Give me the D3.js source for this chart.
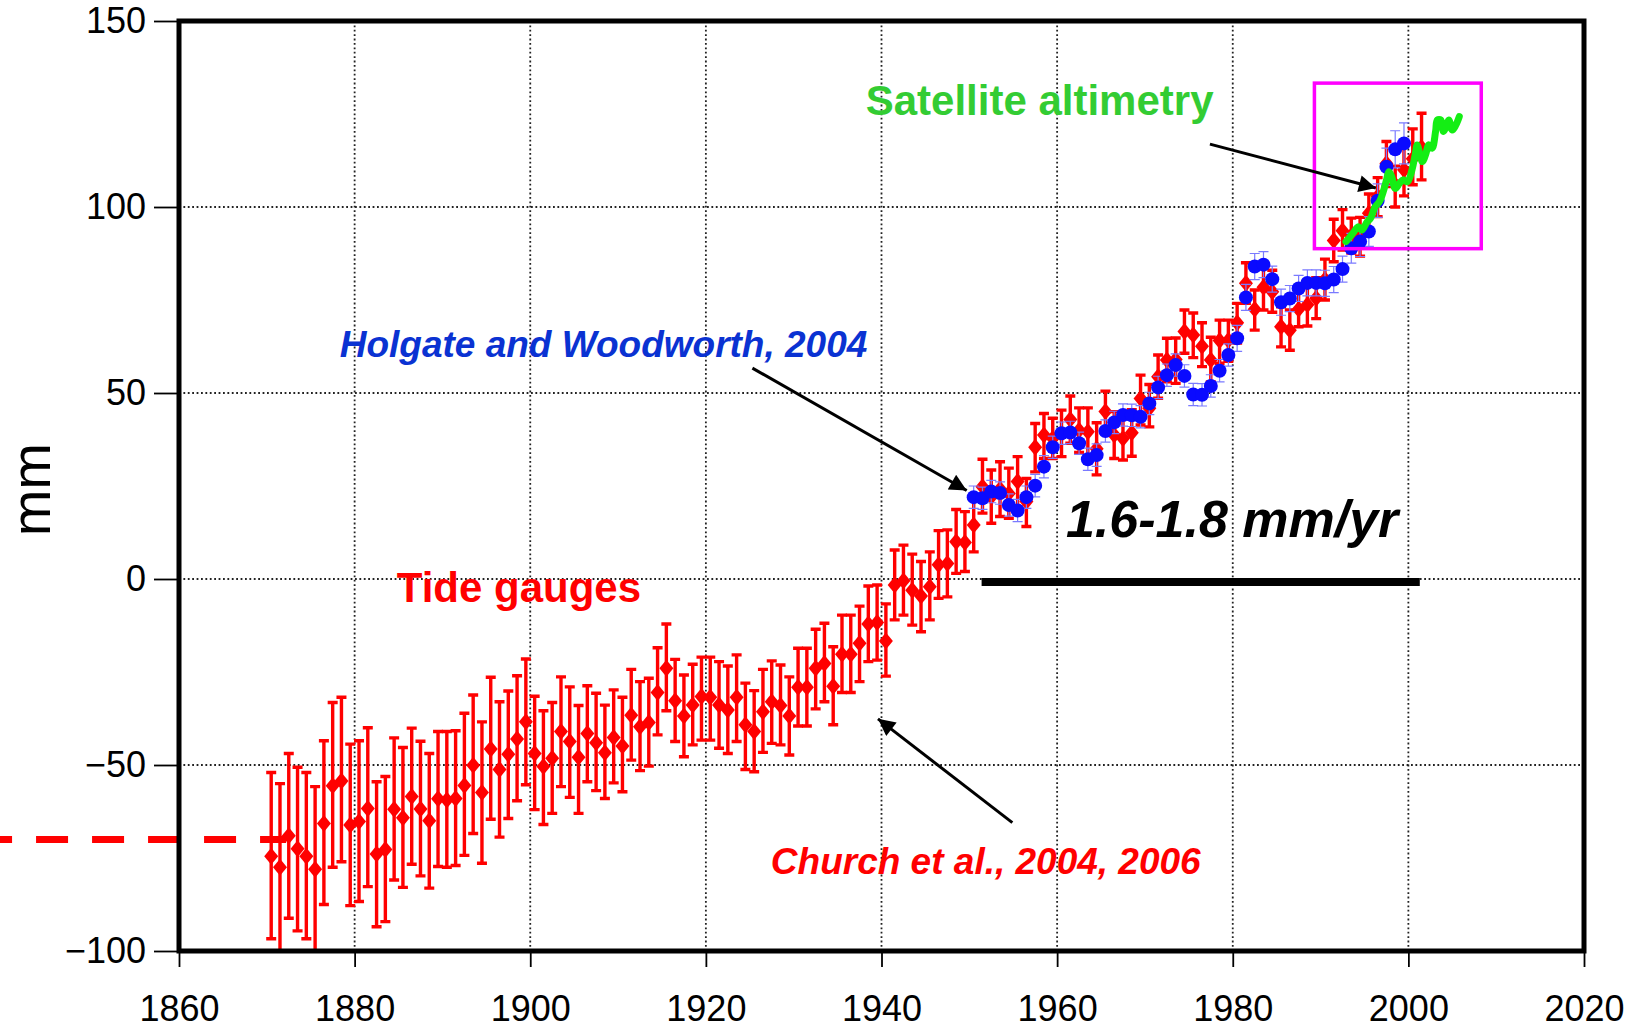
<!DOCTYPE html>
<html>
<head>
<meta charset="utf-8">
<script src="https://cdn.jsdelivr.net/npm/d3@7"></script>
<style>
  html, body { margin: 0; padding: 0; background: #fff; }
  svg { display: block; font-family: "Liberation Sans", Arial, Helvetica, sans-serif; }
</style>
</head>
<body>
<svg width="1639" height="1032"></svg>
<script>
// data

var xTicks = [1860, 1880, 1900, 1920, 1940, 1960, 1980, 2000, 2020];
var yTicks = [-100, -50, 0, 50, 100, 150];

// Church et al. tide gauge reconstruction, 1870-2001 (mm)
var tideStart = 1870;
var tideMean = [
  -74.5, -77.5, -69, -72.5, -74.5, -78, -65.7, -55.6, -54.3, -66.1,
  -65.2, -61.7, -73.9, -72.7, -61.9, -64.2, -58.5, -61.8, -65, -59.1,
  -59.4, -59, -55.5, -50.1, -57.4, -45.7, -51.2, -47.1, -43, -38.4,
  -46.9, -50.4, -48.2, -41, -43.7, -47.9, -41.5, -44, -46.7, -42.6,
  -44.9, -36.6, -39.7, -38.6, -30.5, -24, -32.7, -36.8, -33.9, -31.6,
  -31.8, -33.9, -35.2, -31.8, -39.2, -41, -35.7, -33, -34, -36.8,
  -29.1, -29.1, -24, -22.7, -28.8, -20.2, -20.2, -17.3, -12.1, -11.7,
  -16.7, -1.6, -0.5, -3, -4.6, -2.1, 3.8, 4.2, 10, 9.8,
  14.5, 24.8, 22.1, 24.2, 23, 26.2, 20.8, 35.4, 38.7, 37.8,
  39, 42.9, 40, 39.6, 35, 45, 38.7, 37.8, 39.3, 48.5,
  45.9, 54.4, 58.9, 59, 66.5, 65.6, 62.6, 58.9, 64.1, 64.2,
  68.9, 79.5, 72.5, 78.4, 77.2, 67.8, 66.9, 72.5, 73.7, 75.5,
  80.5, 91, 93.6, 92.3, 92, 98.3, 102.8, 111.7, 106, 110,
  113, 116
];
var tideLow = [
  -96.7, -101, -91.2, -94.6, -96.7, -101, -87.5, -77.5, -76, -87.8,
  -86.7, -82.7, -93.5, -92.1, -80.9, -82.9, -76.7, -79.8, -83.1, -77.3,
  -77.5, -77, -74.3, -68.4, -76.4, -64.6, -69.4, -64.4, -59.6, -55.3,
  -62, -66, -63, -55.8, -58.7, -63, -54.5, -56.9, -59, -54.8,
  -57.2, -48.7, -51.5, -50.3, -41.9, -35.4, -43.7, -47.8, -44.6, -43.3,
  -43.3, -45.5, -46.9, -43.7, -51.2, -51.8, -46.6, -44.2, -44.6, -47.3,
  -39.5, -39.5, -34.9, -33, -39.2, -30.5, -30.5, -27.6, -22.2, -21.8,
  -26.1, -11, -9.7, -12.4, -14.2, -11, -5.2, -4.8, 1.5, 2,
  7.3, 17.7, 15, 16.8, 16.3, 19.4, 14.1, 28.8, 32.4, 32.4,
  32.9, 36.5, 34, 33, 28, 39.2, 32.4, 32, 33, 41.4,
  40.9, 48.6, 53, 52.6, 60.7, 59.5, 57.1, 53, 58, 58.5,
  63.4, 74.1, 66.9, 72.3, 71.7, 62.4, 61.5, 67.8, 68, 70,
  75, 85.3, 88.4, 87.6, 86.8, 92.9, 97.4, 105.5, 100, 103,
  106, 107.3
];
var tideHigh = [
  -52, -55, -46.9, -50.6, -52, -55.8, -43.5, -33.2, -31.8, -44.4,
  -43.5, -40, -54.5, -53.1, -42.7, -45.3, -40.1, -43.6, -46.9, -41,
  -41, -40.8, -36.1, -31.2, -38.4, -26.4, -33, -30.1, -26, -21.5,
  -31.5, -35.4, -33.2, -26.3, -29, -34, -28.7, -30.7, -33.9, -29.8,
  -31.8, -24.3, -27.6, -26.7, -18.5, -12.1, -21.6, -25.8, -22.9, -21,
  -21, -22.2, -23.4, -20.4, -28, -30, -24.3, -22, -23.1, -26.3,
  -18.6, -18.6, -13.5, -11.9, -18.2, -9.7, -9.7, -7.3, -1.9, -1.6,
  -6.7, 7.8, 9.1, 6.7, 4.7, 7.3, 13, 13.2, 18.7, 18.1,
  22, 32.2, 29.3, 31.5, 29.8, 32.9, 27, 41.8, 44.5, 43.2,
  45.4, 49.2, 46, 46, 42, 50.5, 45, 44, 45.5, 54.8,
  52.3, 60.2, 64.7, 64.8, 72.3, 71.5, 68.9, 65, 69.6, 69.6,
  74.1, 85, 77.7, 83.5, 83, 73.2, 72.3, 78.1, 79.5, 81,
  86, 96.7, 99.3, 97, 97.2, 103.5, 107.9, 117.6, 111, 117,
  121, 125.2
];

// Holgate and Woodworth, 1950-1999 (mm)
var holgateStart = 1950;
var holgateMean = [
  22, 21.7, 23.5, 23.1, 19.9, 18.4, 22, 25.1, 30.2, 35.4,
  39.2, 39.4, 36.5, 32.2, 33.3, 39.8, 42.1, 44.1, 44, 43.6,
  47.2, 51.5, 54.8, 57.5, 54.6, 49.6, 49.5, 51.9, 56, 60.2,
  64.7, 75.7, 84, 84.5, 80.6, 74.4, 75.4, 78.1, 79.6, 79.6,
  79.5, 80.5, 83.3, 88.9, 90.7, 93.4, 101.7, 110.8, 115.5, 117.1
];
var holgateErr = [
  3, 3, 3, 3, 3, 3, 3, 3, 3, 3,
  3, 3, 3, 3, 3, 3, 3, 3, 3, 3,
  3, 3, 3, 3, 3, 3, 3, 3, 3, 3,
  3.5, 3.5, 3.5, 3.5, 3.5, 3.5, 3.5, 3.5, 3.5, 3.5,
  3.5, 3.5, 3.5, 4, 4, 4, 4.5, 5, 5, 5.5
];

// satellite altimetry
var satYears = [
  1992.9, 1993.7, 1994.3, 1994.7, 1995.3, 1995.7, 1996.2, 1996.7, 1997.2, 1997.5,
  1997.8, 1998.1, 1998.5, 1999.0, 1999.4, 1999.9, 2000.4, 2000.8, 2001.0, 2001.3,
  2001.6, 2002.0, 2002.3, 2002.7, 2003.1, 2003.3, 2003.7, 2004.0, 2004.3, 2004.6,
  2005.0, 2005.4, 2005.8
];
var satValues = [
  90.7, 93, 94.7, 93.8, 96, 97, 100, 101.4, 104.6, 107.2,
  109.5, 108.2, 105, 106.4, 107.3, 106.8, 109.9, 114.4, 116.7, 114.4,
  112.2, 114.4, 116.7, 115.8, 120.3, 123.4, 123.4, 120.3, 121.6, 123.4,
  120.7, 122, 124.3
];

// presets

var svg = d3.select("svg");
var x = d3.scaleLinear().domain([1860, 2020]).range([179, 1584]);
var y = d3.scaleLinear().domain([-100, 150]).range([951, 21]);

var tide = tideMean.map(function(v, i) {
  return { year: tideStart + i + 0.5, value: v, lo: tideLow[i], hi: tideHigh[i] };
});
var holgate = holgateMean.map(function(v, i) {
  return { year: holgateStart + i + 0.5, value: v, err: holgateErr[i] };
});
var sat = satYears.map(function(t, i) {
  return { year: t, value: satValues[i] };
});

var defs = svg.append("defs");
defs.append("clipPath")
  .attr("id", "plot-clip")
  .append("rect")
  .attr("x", x(1860))
  .attr("y", y(150))
  .attr("width", x(2020) - x(1860))
  .attr("height", y(-100) - y(150));

defs.append("marker")
  .attr("id", "arrow")
  .attr("viewBox", "0 0 10 10")
  .attr("refX", 10)
  .attr("refY", 5)
  .attr("markerWidth", 24)
  .attr("markerHeight", 17)
  .attr("markerUnits", "userSpaceOnUse")
  .attr("orient", "auto")
  .append("path")
  .attr("d", "M0,0L10,5L0,10Z")
  .attr("fill", "#000");

// grid

var grid = svg.append("g").attr("class", "grid");
grid.selectAll("line.gx")
  .data(xTicks.slice(1, -1))
  .enter().append("line")
  .attr("x1", function(d) { return x(d); })
  .attr("x2", function(d) { return x(d); })
  .attr("y1", y(150))
  .attr("y2", y(-100));
grid.selectAll("line.gy")
  .data(yTicks.slice(1, -1))
  .enter().append("line")
  .attr("x1", x(1860))
  .attr("x2", x(2020))
  .attr("y1", function(d) { return y(d); })
  .attr("y2", function(d) { return y(d); });
grid.selectAll("line")
  .attr("stroke", "#222")
  .attr("stroke-width", 1.8)
  .attr("stroke-dasharray", "1.8,2.6");

// axes

function fmt(d) {
  return d < 0 ? "\u2212" + Math.abs(d) : String(d);
}

var yAxis = svg.append("g")
  .attr("transform", "translate(" + x(1860) + ",0)")
  .call(d3.axisLeft(y).tickValues(yTicks).tickSize(25).tickPadding(8).tickFormat(fmt));

var xAxis = svg.append("g")
  .attr("transform", "translate(0," + y(-100) + ")")
  .call(d3.axisBottom(x).tickValues(xTicks).tickSize(16).tickPadding(28).tickFormat(d3.format("d")));

[xAxis, yAxis].forEach(function(a) {
  a.select(".domain").remove();
  a.selectAll(".tick line").attr("stroke", "#000").attr("stroke-width", 1.8);
  a.selectAll(".tick text")
    .attr("fill", "#000")
    .style("font-size", "36px")
    .style("font-family", "'Liberation Sans', Arial, sans-serif");
});

svg.append("text")
  .attr("transform", "translate(50," + y(24) + ") rotate(-90)")
  .attr("text-anchor", "middle")
  .style("font-size", "56px")
  .text("mm");

// red dashed reference before 1870
svg.append("line")
  .attr("x1", x(1837))
  .attr("x2", x(1872.2))
  .attr("y1", y(-70))
  .attr("y2", y(-70))
  .attr("stroke", "#ff0000")
  .attr("stroke-width", 7)
  .attr("stroke-dasharray", "32,24")
  .attr("stroke-dashoffset", -x(1837) + 30);

// trend line
svg.append("line")
  .attr("x1", x(1951.4))
  .attr("x2", x(2001.3))
  .attr("y1", y(-0.8))
  .attr("y2", y(-0.8))
  .attr("stroke", "#000")
  .attr("stroke-width", 8);

// data layer

var plot = svg.append("g").attr("clip-path", "url(#plot-clip)");

var cap = 5;
plot.append("g")
  .selectAll("path")
  .data(tide)
  .enter().append("path")
  .attr("d", function(d) {
    var cx = x(d.year), y0 = y(d.lo), y1 = y(d.hi);
    return "M" + (cx - cap) + "," + y1 + "H" + (cx + cap) +
      "M" + cx + "," + y1 + "V" + y0 +
      "M" + (cx - cap) + "," + y0 + "H" + (cx + cap);
  })
  .attr("fill", "none")
  .attr("stroke", "#ff0000")
  .attr("stroke-width", 3.4);

plot.append("g")
  .selectAll("path")
  .data(tide)
  .enter().append("path")
  .attr("transform", function(d) { return "translate(" + x(d.year) + "," + y(d.value) + ")"; })
  .attr("d", "M0,-8.5L7,0L0,8.5L-7,0Z")
  .attr("fill", "#ff0000");

var bcap = 5;
plot.append("g")
  .selectAll("path")
  .data(holgate)
  .enter().append("path")
  .attr("d", function(d) {
    var cx = x(d.year), y0 = y(d.value - d.err), y1 = y(d.value + d.err);
    return "M" + (cx - bcap) + "," + y1 + "H" + (cx + bcap) +
      "M" + cx + "," + y1 + "V" + y0 +
      "M" + (cx - bcap) + "," + y0 + "H" + (cx + bcap);
  })
  .attr("fill", "none")
  .attr("stroke", "#7a7aff")
  .attr("stroke-width", 1.2);

plot.append("g")
  .selectAll("circle")
  .data(holgate)
  .enter().append("circle")
  .attr("cx", function(d) { return x(d.year); })
  .attr("cy", function(d) { return y(d.value); })
  .attr("r", 7)
  .attr("fill", "#0a0aff");

var line = d3.line()
  .x(function(d) { return x(d.year); })
  .y(function(d) { return y(d.value); })
  .curve(d3.curveCatmullRom);

plot.append("path")
  .datum(sat)
  .attr("d", line)
  .attr("fill", "none")
  .attr("stroke", "#14ee14")
  .attr("stroke-width", 7)
  .attr("stroke-linejoin", "round")
  .attr("stroke-linecap", "round");

// magenta box around satellite era
svg.append("rect")
  .attr("x", x(1989.3))
  .attr("y", y(133.3))
  .attr("width", x(2008.3) - x(1989.3))
  .attr("height", y(88.8) - y(133.3))
  .attr("fill", "none")
  .attr("stroke", "#ff00ff")
  .attr("stroke-width", 3.5);

// arrows

var arrows = [
  { x0: 1925.3, y0: 56.7, x1: 1949.7, y1: 23.8 },
  { x0: 1954.9, y0: -65.5, x1: 1939.6, y1: -37.6 },
  { x0: 1977.4, y0: 116.9, x1: 1996.3, y1: 105.1 }
];
svg.append("g")
  .selectAll("line")
  .data(arrows)
  .enter().append("line")
  .attr("x1", function(d) { return x(d.x0); })
  .attr("y1", function(d) { return y(d.y0); })
  .attr("x2", function(d) { return x(d.x1); })
  .attr("y2", function(d) { return y(d.y1); })
  .attr("stroke", "#000")
  .attr("stroke-width", 3)
  .attr("marker-end", "url(#arrow)");

// labels

var labels = [
  { text: "Satellite altimetry", year: 1938.2, value: 124.8, size: 42, italic: false, color: "#33cc33" },
  { text: "Holgate and Woodworth, 2004", year: 1878.3, value: 59.8, size: 37, italic: true, color: "#0a32d2" },
  { text: "Tide gauges", year: 1884.8, value: -6.1, size: 42, italic: false, color: "#ff0000" },
  { text: "Church et al., 2004, 2006", year: 1927.4, value: -79.2, size: 37, italic: true, color: "#ff0000" },
  { text: "1.6-1.8 mm/yr", year: 1961, value: 11.3, size: 52, italic: true, color: "#000" }
];
svg.append("g")
  .selectAll("text")
  .data(labels)
  .enter().append("text")
  .attr("x", function(d) { return x(d.year); })
  .attr("y", function(d) { return y(d.value); })
  .attr("fill", function(d) { return d.color; })
  .style("font-size", function(d) { return d.size + "px"; })
  .style("font-weight", "bold")
  .style("font-style", function(d) { return d.italic ? "italic" : "normal"; })
  .text(function(d) { return d.text; });

// frame
svg.append("rect")
  .attr("x", x(1860))
  .attr("y", y(150))
  .attr("width", x(2020) - x(1860))
  .attr("height", y(-100) - y(150))
  .attr("fill", "none")
  .attr("stroke", "#000")
  .attr("stroke-width", 5);
</script>
</body>
</html>
